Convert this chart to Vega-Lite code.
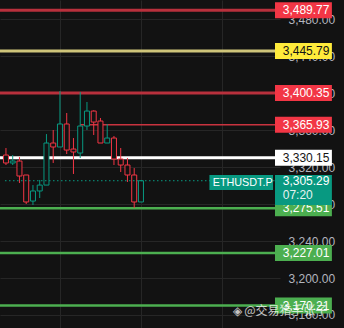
{
  "$schema": "https://vega.github.io/schema/vega-lite/v6.json",
  "width": 280,
  "height": 328,
  "autosize": {"type": "none"},
  "padding": {"left": 0, "top": 0, "right": 64, "bottom": 0},
  "background": "#121212",
  "config": {"view": {"stroke": null}, "font": "Liberation Sans"},
  "datasets": {
    "candles": [
      {"i": 1, "open": 3333.1, "high": 3340.7, "low": 3322.3, "close": 3324.5},
      {"i": 2, "open": 3324.5, "high": 3333.1, "low": 3322.3, "close": 3326.6},
      {"i": 3, "open": 3326.6, "high": 3330.9, "low": 3302.8, "close": 3310.4},
      {"i": 4, "open": 3311.5, "high": 3311.5, "low": 3280.1, "close": 3282.3},
      {"i": 5, "open": 3283.3, "high": 3300.6, "low": 3279.0, "close": 3294.2},
      {"i": 6, "open": 3294.2, "high": 3306.1, "low": 3286.6, "close": 3300.6},
      {"i": 7, "open": 3300.6, "high": 3355.8, "low": 3300.6, "close": 3346.1},
      {"i": 8, "open": 3346.1, "high": 3360.2, "low": 3324.5, "close": 3341.8},
      {"i": 9, "open": 3341.8, "high": 3402.4, "low": 3341.8, "close": 3366.7},
      {"i": 10, "open": 3366.7, "high": 3378.6, "low": 3334.2, "close": 3338.5},
      {"i": 11, "open": 3339.6, "high": 3351.5, "low": 3312.6, "close": 3336.4},
      {"i": 12, "open": 3335.3, "high": 3401.3, "low": 3329.9, "close": 3364.5},
      {"i": 13, "open": 3364.5, "high": 3390.5, "low": 3360.2, "close": 3380.7},
      {"i": 14, "open": 3380.7, "high": 3381.5, "low": 3354.8, "close": 3368.8},
      {"i": 15, "open": 3369.9, "high": 3373.2, "low": 3346.1, "close": 3346.1},
      {"i": 16, "open": 3346.1, "high": 3366.7, "low": 3346.1, "close": 3351.5},
      {"i": 17, "open": 3351.5, "high": 3353.7, "low": 3322.3, "close": 3328.8},
      {"i": 18, "open": 3328.8, "high": 3340.7, "low": 3314.7, "close": 3322.3},
      {"i": 19, "open": 3322.3, "high": 3329.9, "low": 3303.9, "close": 3311.5},
      {"i": 20, "open": 3311.5, "high": 3319.0, "low": 3275.8, "close": 3282.3},
      {"i": 21, "open": 3282.3, "high": 3306.1, "low": 3282.3, "close": 3305.29}
    ],
    "levels": [
      {"price": 3489.77, "label": "3,489.77", "kind": "R", "from": 0},
      {"price": 3445.79, "label": "3,445.79", "kind": "Y", "from": 0},
      {"price": 3400.35, "label": "3,400.35", "kind": "R", "from": 0},
      {"price": 3365.93, "label": "3,365.93", "kind": "R2", "from": 12},
      {"price": 3330.15, "label": "3,330.15", "kind": "W", "from": 0},
      {"price": 3275.51, "label": "3,275.51", "kind": "G", "from": 0},
      {"price": 3227.01, "label": "3,227.01", "kind": "G", "from": 0},
      {"price": 3170.21, "label": "3,170.21", "kind": "G", "from": 0}
    ],
    "last": [
      {"price": 3305.29, "symbol": "ETHUSDT.P", "label": "3,305.29", "countdown": "07:20"}
    ],
    "watermark": [
      {"text": "◈ @交易猎手张子"}
    ]
  },
  "layer": [
    {
      "data": {"name": "levels"},
      "mark": {"type": "rule", "clip": true},
      "encoding": {
        "x": {
          "field": "from", "type": "quantitative",
          "scale": {"domain": [0.857143, 40.857143], "nice": false, "zero": false},
          "axis": {"title": null, "labels": false, "ticks": false, "domain": false, "grid": true, "gridColor": "#262626", "gridWidth": 1, "values": [9, 21, 33], "zindex": 0}
        },
        "x2": {"datum": 40.857143},
        "y": {
          "field": "price", "type": "quantitative",
          "scale": {"domain": [3145.9, 3500.9], "nice": false, "zero": false},
          "axis": {"title": null, "orient": "right", "values": [3160, 3200, 3240, 3280, 3320, 3360, 3400, 3440, 3480], "format": ",.2f", "labelColor": "#b2b5be", "labelFontSize": 12, "labelFont": "Liberation Sans", "labelPadding": 8, "ticks": false, "domain": false, "grid": true, "gridColor": "#262626", "gridWidth": 1, "labelOverlap": false, "zindex": 0}
        },
        "stroke": {"condition": [
          {"test": "datum.kind === 'R'", "value": "#b8303c"},
          {"test": "datum.kind === 'R2'", "value": "#c9333f"},
          {"test": "datum.kind === 'Y'", "value": "#cfc57a"},
          {"test": "datum.kind === 'W'", "value": "#ffffff"}
        ], "value": "#4caf50"},
        "strokeWidth": {"condition": [
          {"test": "datum.kind === 'R2'", "value": 1.5},
          {"test": "datum.kind === 'G'", "value": 2.5}
        ], "value": 3}
      }
    },
    {
      "data": {"name": "candles"},
      "mark": {"type": "rule", "strokeWidth": 1},
      "encoding": {
        "x": {"field": "i", "type": "quantitative"},
        "y": {"field": "low", "type": "quantitative"},
        "y2": {"field": "high"},
        "color": {"condition": {"test": "datum.close >= datum.open", "value": "#089981"}, "value": "#f23645"}
      }
    },
    {
      "data": {"name": "candles"},
      "mark": {"type": "bar", "width": 5, "fill": "#121212", "strokeWidth": 1},
      "encoding": {
        "x": {"field": "i", "type": "quantitative"},
        "y": {"field": "open", "type": "quantitative"},
        "y2": {"field": "close"},
        "stroke": {"condition": {"test": "datum.close >= datum.open", "value": "#089981"}, "value": "#f23645"}
      }
    },
    {
      "data": {"name": "last"},
      "mark": {"type": "rule", "strokeDash": [1.5, 2.5], "strokeWidth": 1, "color": "#089981"},
      "encoding": {
        "x": {"datum": 0.857143, "type": "quantitative"},
        "x2": {"datum": 40.857143},
        "y": {"field": "price", "type": "quantitative"}
      }
    },
    {
      "data": {"name": "levels"},
      "mark": {"type": "rect", "height": 16},
      "encoding": {
        "x": {"datum": 40.857143, "type": "quantitative"},
        "x2": {"datum": 49.285714},
        "y": {"field": "price", "type": "quantitative"},
        "fill": {"condition": [
          {"test": "datum.kind === 'R' || datum.kind === 'R2'", "value": "#f23645"},
          {"test": "datum.kind === 'Y'", "value": "#ffeb3b"},
          {"test": "datum.kind === 'W'", "value": "#ffffff"}
        ], "value": "#4caf50"}
      }
    },
    {
      "data": {"name": "levels"},
      "mark": {"type": "text", "align": "left", "baseline": "middle", "fontSize": 12, "font": "Liberation Sans"},
      "encoding": {
        "x": {"datum": 42, "type": "quantitative"},
        "y": {"field": "price", "type": "quantitative"},
        "text": {"field": "label"},
        "color": {"condition": {"test": "datum.kind === 'Y' || datum.kind === 'W'", "value": "#131313"}, "value": "#ffffff"}
      }
    },
    {
      "data": {"name": "last"},
      "mark": {"type": "rect", "color": "#089981"},
      "encoding": {
        "x": {"datum": 40.857143, "type": "quantitative"},
        "x2": {"datum": 49.285714},
        "y": {"datum": 3311.5, "type": "quantitative"},
        "y2": {"datum": 3279.0}
      }
    },
    {
      "data": {"name": "last"},
      "mark": {"type": "rect", "color": "#089981"},
      "encoding": {
        "x": {"datum": 31.142857, "type": "quantitative"},
        "x2": {"datum": 40.571429},
        "y": {"datum": 3311.5, "type": "quantitative"},
        "y2": {"datum": 3295.2}
      }
    },
    {
      "data": {"name": "last"},
      "mark": {"type": "text", "align": "center", "baseline": "middle", "fontSize": 10.8, "color": "#ffffff", "font": "Liberation Sans"},
      "encoding": {
        "x": {"datum": 36.07, "type": "quantitative"},
        "y": {"datum": 3303.3, "type": "quantitative"},
        "text": {"field": "symbol"}
      }
    },
    {
      "data": {"name": "last"},
      "mark": {"type": "text", "align": "left", "baseline": "middle", "fontSize": 12, "color": "#ffffff", "font": "Liberation Sans"},
      "encoding": {
        "x": {"datum": 42, "type": "quantitative"},
        "y": {"field": "price", "type": "quantitative"},
        "text": {"field": "label"}
      }
    },
    {
      "data": {"name": "last"},
      "mark": {"type": "text", "align": "left", "baseline": "middle", "fontSize": 12, "color": "#e6f4f1", "font": "Liberation Sans", "dy": 14.5},
      "encoding": {
        "x": {"datum": 42, "type": "quantitative"},
        "y": {"field": "price", "type": "quantitative"},
        "text": {"field": "countdown"}
      }
    },
    {
      "data": {"name": "watermark"},
      "mark": {"type": "text", "align": "left", "baseline": "middle", "fontSize": 12, "color": "#ffffff", "opacity": 0.75, "font": "Noto Sans CJK SC"},
      "encoding": {
        "x": {"datum": 34.571429, "type": "quantitative"},
        "y": {"datum": 3164.3, "type": "quantitative"},
        "text": {"field": "text"}
      }
    }
  ]
}
